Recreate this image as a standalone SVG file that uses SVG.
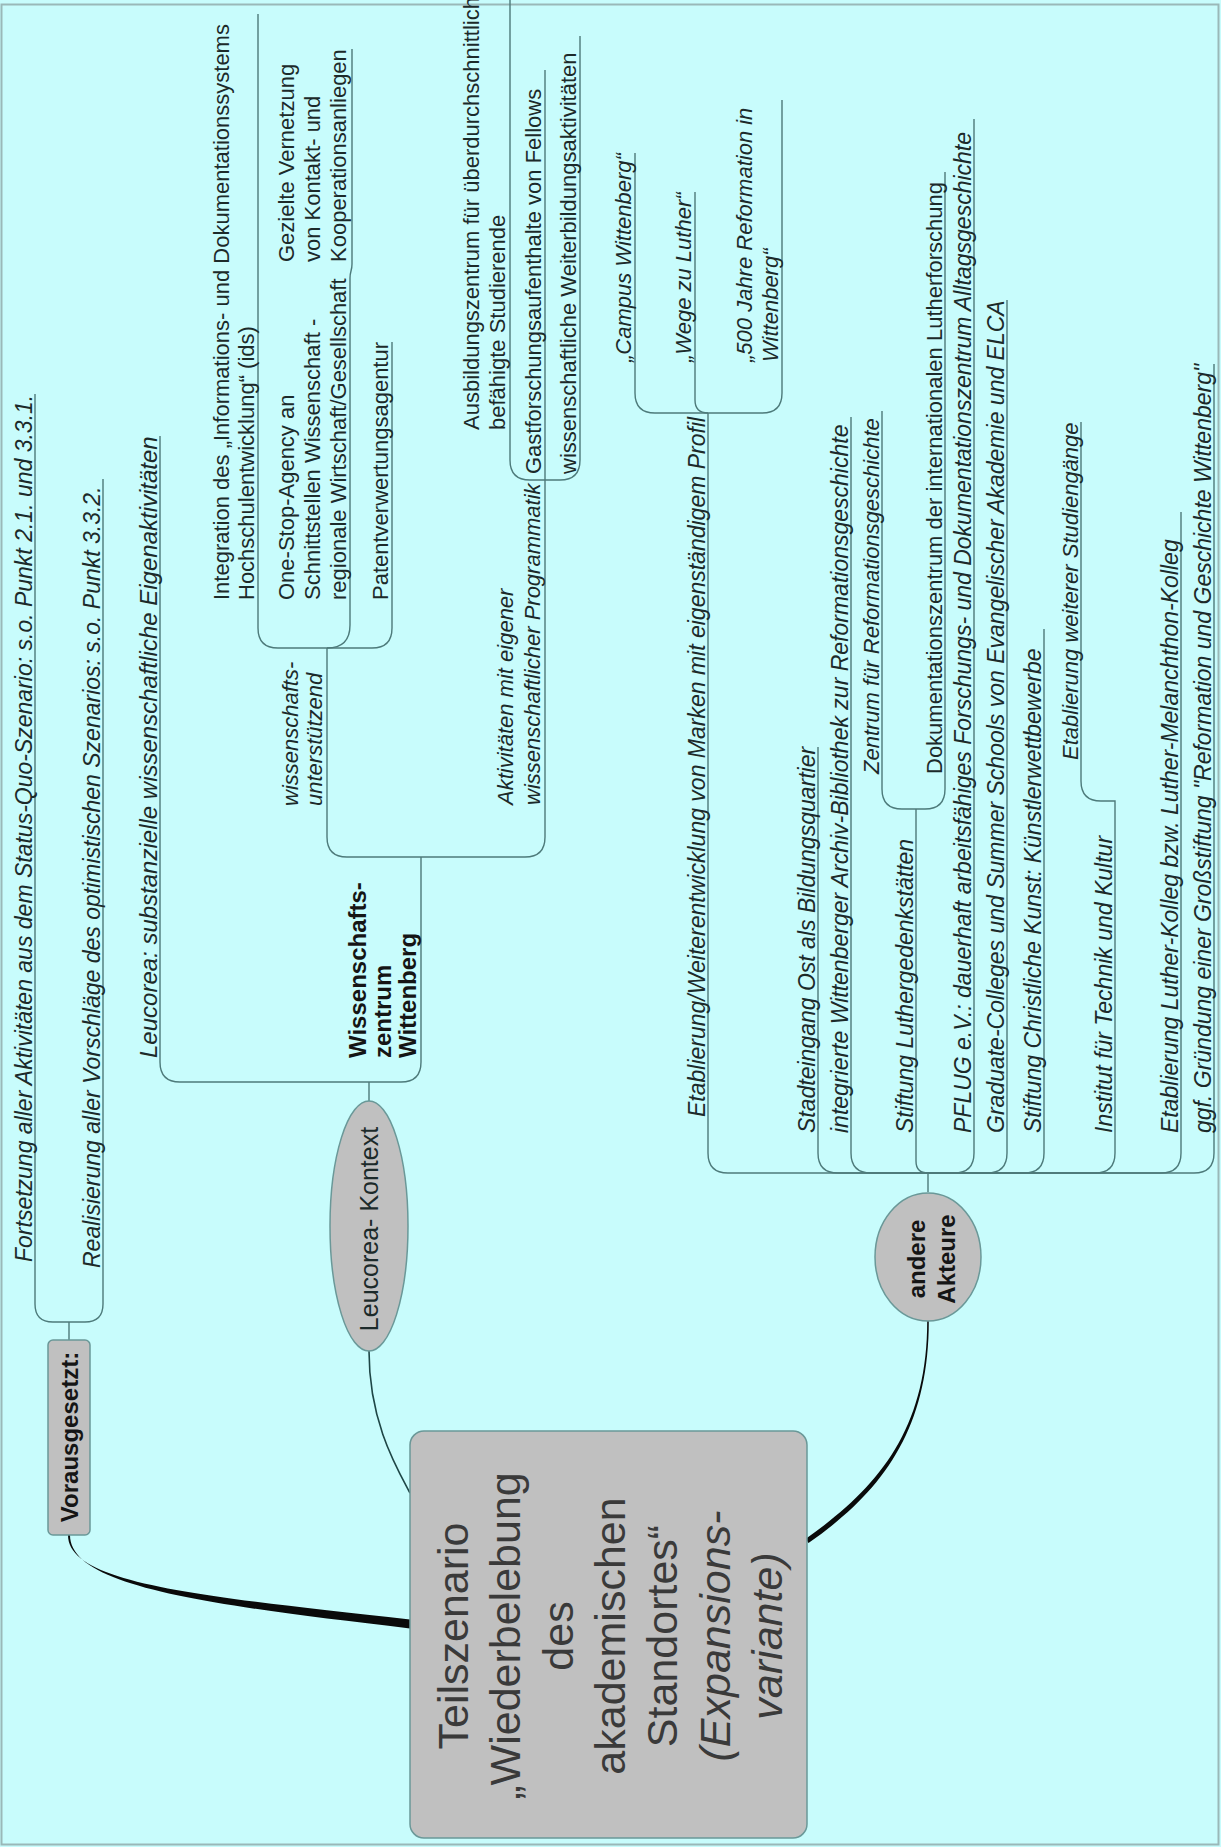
<svg xmlns="http://www.w3.org/2000/svg" width="1221" height="1847" viewBox="0 0 1221 1847">
<style>
text{font-family:'Liberation Sans',Arial,sans-serif;fill:#1c2a2a}
.t1{font-size:23px;font-style:italic}
.t2{font-size:22px;font-style:italic}
.t3{font-size:22px}
.tb{font-size:24px;font-weight:bold;fill:#151515}
.tc{font-size:43px;fill:#3a3a3a;text-anchor:middle}
.tm{text-anchor:middle}
.it{font-style:italic}
.node{fill:#c0c0c0;stroke:#6a9898;stroke-width:1.5}
.ln{fill:none;stroke:#4d7a7a;stroke-width:1.4}
.thin{fill:none;stroke:#1e4646;stroke-width:1.6}
.thick{fill:#0a0a0a}
</style>
<rect x="0" y="0" width="1221" height="1847" fill="#c8fcfc"/>
<rect x="1.5" y="4.5" width="1217" height="1840" fill="none" stroke="#9ab8b8" stroke-width="2"/>

<g id="connectors">
  <!-- main connectors to central node -->
  <path class="thick" d="M68,1535 C68,1584 199,1596 410,1619.5 L410,1628.5 C201,1604 70,1586 70,1535 Z"/>
  <path class="thin" d="M369,1351 C369,1420 395,1465 410,1493"/>
  <path class="thick" d="M927.2,1321 C927.2,1430 878,1488 805.5,1539 L808.5,1543 C882,1492 928.8,1430 928.8,1321 Z"/>
  <!-- Vorausgesetzt branches -->
  <path class="ln" d="M69,1340 V1322"/>
  <path class="ln" d="M69,1322 H53 Q35,1322 35,1304 V394"/>
  <path class="ln" d="M69,1322 H85 Q103,1322 103,1304 V479"/>
  <!-- Leucorea branches -->
  <path class="ln" d="M369,1102 V1082"/>
  <path class="ln" d="M369,1082 H180 Q160,1082 160,1062 V436"/>
  <path class="ln" d="M369,1082 H401 Q421,1082 421,1062 V857"/>
  <path class="ln" d="M421,857 H347 Q327,857 327,837 V648"/>
  <path class="ln" d="M421,857 H525 Q545,857 545,837 V480"/>
  <path class="ln" d="M327,648 H278 Q258,648 258,628 V14"/>
  <path class="ln" d="M327,648 Q350,648 350,625 V278"/>
  <path class="ln" d="M327,648 H372 Q392,648 392,628 V342"/>
  <path class="ln" d="M350,278 C350,271 352,271 352,264 V49"/>
  <path class="ln" d="M545,480 H530 Q510,480 510,460 V0"/>
  <path class="ln" d="M545,480 V70"/>
  <path class="ln" d="M545,480 H560 Q580,480 580,460 V36"/>
  <!-- andere Akteure branches -->
  <path class="ln" d="M928,1192 V1173"/>
  <path class="ln" d="M928,1173 H728 Q708,1173 708,1153 V413"/>
  <path class="ln" d="M708,413 H655 Q635,413 635,393 V153"/>
  <path class="ln" d="M708,413 Q695,413 695,400 V192"/>
  <path class="ln" d="M708,413 H762 Q782,413 782,393 V100"/>
  <path class="ln" d="M928,1173 H838 Q818,1173 818,1153 V747"/>
  <path class="ln" d="M928,1173 H871 Q851,1173 851,1153 V417"/>
  <path class="ln" d="M928,1173 Q916,1173 916,1161 V809"/>
  <path class="ln" d="M916,809 H902 Q882,809 882,789 V411"/>
  <path class="ln" d="M916,809 H925 Q945,809 945,789 V172"/>
  <path class="ln" d="M928,1173 H954 Q974,1173 974,1153 V119"/>
  <path class="ln" d="M928,1173 H987 Q1007,1173 1007,1153 V300"/>
  <path class="ln" d="M928,1173 H1024 Q1044,1173 1044,1153 V629"/>
  <path class="ln" d="M928,1173 H1095 Q1115,1173 1115,1153 V801 H1101 Q1081,801 1081,781 V422"/>
  <path class="ln" d="M928,1173 H1161 Q1181,1173 1181,1153 V512"/>
  <path class="ln" d="M928,1173 H1194 Q1214,1173 1214,1153 V364"/>
</g>

<g id="node-central">
  <rect class="node" x="410" y="1431" width="397" height="407" rx="14"/>
  <text class="tc" transform="translate(468 1636) rotate(-90)">Teilszenario</text>
  <text class="tc" transform="translate(520 1636) rotate(-90)">„Wiederbelebung</text>
  <text class="tc" transform="translate(573 1636) rotate(-90)">des</text>
  <text class="tc" transform="translate(625 1636) rotate(-90)">akademischen</text>
  <text class="tc" transform="translate(677 1636) rotate(-90)">Standortes“</text>
  <text class="tc it" transform="translate(730 1636) rotate(-90)">(Expansions-</text>
  <text class="tc it" transform="translate(782 1636) rotate(-90)">variante)</text>
</g>

<g id="node-vorausgesetzt">
  <rect class="node" x="48" y="1340" width="42" height="195" rx="5"/>
  <text class="tb tm" transform="translate(77.5 1437) rotate(-90)">Vorausgesetzt:</text>
</g>
<g id="node-fortsetzung">
  <text class="t1" transform="translate(32 1262) rotate(-90)">Fortsetzung aller Aktivitäten aus dem Status-Quo-Szenario: s.o. Punkt 2.1. und 3.3.1.</text>
</g>
<g id="node-realisierung">
  <text class="t1" transform="translate(100 1268) rotate(-90)">Realisierung aller Vorschläge des optimistischen Szenarios: s.o. Punkt 3.3.2.</text>
</g>

<g id="node-leucorea-kontext">
  <ellipse class="node" cx="369" cy="1226" rx="39" ry="125"/>
  <text class="tm" style="font-size:25px" transform="translate(378 1229) rotate(-90)">Leucorea- Kontext</text>
</g>
<g id="node-leucorea-eigen">
  <text class="t1" style="font-size:24px" transform="translate(157 1058) rotate(-90)">Leucorea: substanzielle wissenschaftliche Eigenaktivitäten</text>
</g>
<g id="node-wissenschaftszentrum">
  <text class="tb" transform="translate(366 1058) rotate(-90)">Wissenschafts-</text>
  <text class="tb" transform="translate(391 1058) rotate(-90)">zentrum</text>
  <text class="tb" transform="translate(416 1058) rotate(-90)">Wittenberg</text>
</g>
<g id="node-wiss-unterstuetzend">
  <text class="t2" transform="translate(298 806) rotate(-90)">wissenschafts-</text>
  <text class="t2" transform="translate(322 806) rotate(-90)">unterstützend</text>
</g>
<g id="node-ids">
  <text class="t3" transform="translate(229 600) rotate(-90)">Integration des „Informations- und Dokumentationssystems</text>
  <text class="t3" transform="translate(254 600) rotate(-90)">Hochschulentwicklung“ (ids)</text>
</g>
<g id="node-onestop">
  <text class="t3" transform="translate(294 600) rotate(-90)">One-Stop-Agency an</text>
  <text class="t3" transform="translate(320 600) rotate(-90)">Schnittstellen Wissenschaft -</text>
  <text class="t3" transform="translate(346 600) rotate(-90)">regionale Wirtschaft/Gesellschaft</text>
</g>
<g id="node-vernetzung">
  <text class="t3" transform="translate(294 262) rotate(-90)">Gezielte Vernetzung</text>
  <text class="t3" transform="translate(320 262) rotate(-90)">von Kontakt- und</text>
  <text class="t3" transform="translate(346 262) rotate(-90)">Kooperationsanliegen</text>
</g>
<g id="node-patent">
  <text class="t3" transform="translate(388 600) rotate(-90)">Patentverwertungsagentur</text>
</g>
<g id="node-aktivitaeten">
  <text class="t2" transform="translate(513 805) rotate(-90)">Aktivitäten mit eigener</text>
  <text class="t2" transform="translate(540 805) rotate(-90)">wissenschaftlicher Programmatik</text>
</g>
<g id="node-ausbildung">
  <text class="t3" transform="translate(479 430) rotate(-90)">Ausbildungszentrum für überdurchschnittlich</text>
  <text class="t3" transform="translate(505 430) rotate(-90)">befähigte Studierende</text>
</g>
<g id="node-gastforschung">
  <text class="t3" transform="translate(541 474) rotate(-90)">Gastforschungsaufenthalte von Fellows</text>
</g>
<g id="node-weiterbildung">
  <text class="t3" transform="translate(576 474) rotate(-90)">wissenschaftliche Weiterbildungsaktivitäten</text>
</g>

<g id="node-andere-akteure">
  <ellipse class="node" cx="928" cy="1257" rx="53" ry="64"/>
  <text class="tb tm" transform="translate(925 1259) rotate(-90)">andere</text>
  <text class="tb tm" transform="translate(955 1259) rotate(-90)">Akteure</text>
</g>
<g id="node-marken">
  <text class="t1" transform="translate(705 1117) rotate(-90)">Etablierung/Weiterentwicklung von Marken mit eigenständigem Profil</text>
</g>
<g id="node-campus">
  <text class="t2" transform="translate(631 362) rotate(-90)">„Campus Wittenberg“</text>
</g>
<g id="node-wege">
  <text class="t2" transform="translate(691 362) rotate(-90)">„Wege zu Luther“</text>
</g>
<g id="node-500">
  <text class="t2" transform="translate(752 362) rotate(-90)">„500 Jahre Reformation in</text>
  <text class="t2" transform="translate(778 362) rotate(-90)">Wittenberg“</text>
</g>
<g id="node-stadteingang">
  <text class="t1" transform="translate(815 1133) rotate(-90)">Stadteingang Ost als Bildungsquartier</text>
</g>
<g id="node-archiv">
  <text class="t1" transform="translate(848 1133) rotate(-90)">integrierte Wittenberger Archiv-Bibliothek zur Reformationsgeschichte</text>
</g>
<g id="node-zentrum-reformation">
  <text class="t2" transform="translate(879 774) rotate(-90)">Zentrum für Reformationsgeschichte</text>
</g>
<g id="node-stiftung-luther">
  <text class="t1" transform="translate(913 1133) rotate(-90)">Stiftung Luthergedenkstätten</text>
</g>
<g id="node-dokumentation">
  <text class="t3" transform="translate(942 774) rotate(-90)">Dokumentationszentrum der internationalen Lutherforschung</text>
</g>
<g id="node-pflug">
  <text class="t1" transform="translate(971 1133) rotate(-90)">PFLUG e.V.: dauerhaft arbeitsfähiges Forschungs- und Dokumentationszentrum Alltagsgeschichte</text>
</g>
<g id="node-graduate">
  <text class="t1" transform="translate(1004 1133) rotate(-90)">Graduate-Colleges und Summer Schools von Evangelischer Akademie und ELCA</text>
</g>
<g id="node-kunst">
  <text class="t1" transform="translate(1041 1133) rotate(-90)">Stiftung Christliche Kunst: Künstlerwettbewerbe</text>
</g>
<g id="node-studiengaenge">
  <text class="t2" transform="translate(1078 760) rotate(-90)">Etablierung weiterer Studiengänge</text>
</g>
<g id="node-institut">
  <text class="t1" transform="translate(1112 1133) rotate(-90)">Institut für Technik und Kultur</text>
</g>
<g id="node-kolleg">
  <text class="t1" transform="translate(1178 1133) rotate(-90)">Etablierung Luther-Kolleg bzw. Luther-Melanchthon-Kolleg</text>
</g>
<g id="node-grossstiftung">
  <text class="t1" transform="translate(1211 1133) rotate(-90)">ggf. Gründung einer Großstiftung "Reformation und Geschichte Wittenberg"</text>
</g>
</svg>
